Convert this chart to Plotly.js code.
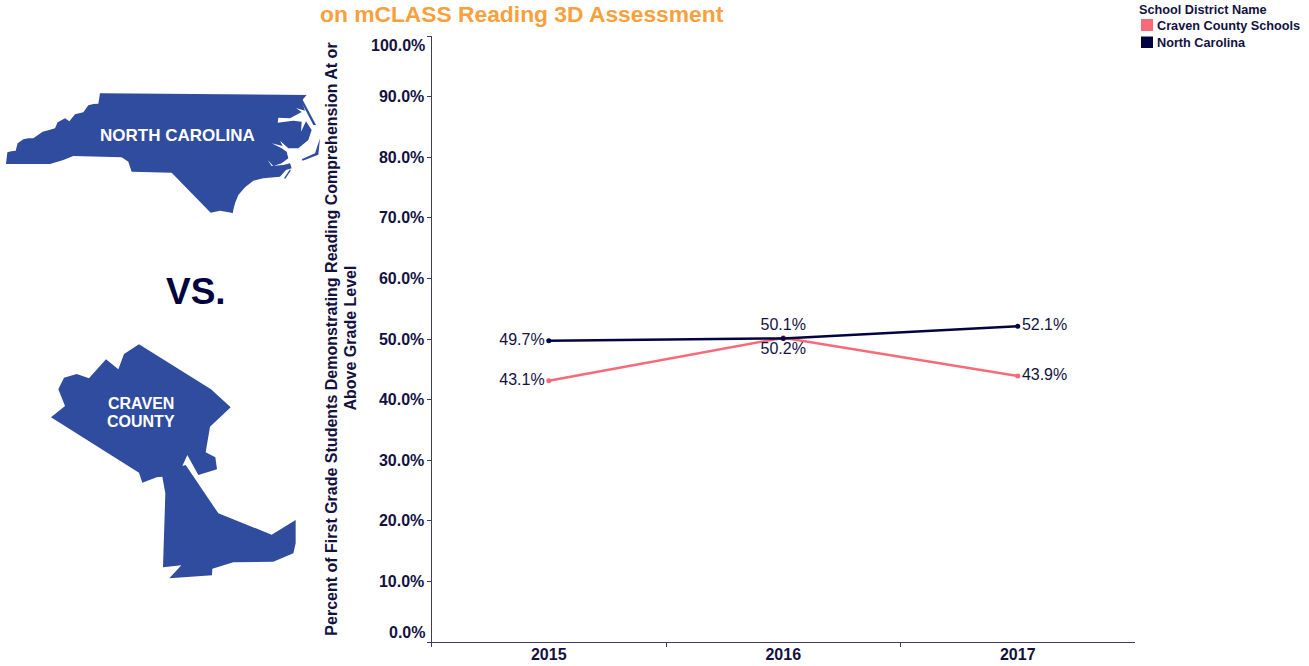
<!DOCTYPE html>
<html><head><meta charset="utf-8">
<script src="https://cdn.plot.ly/plotly-3.0.1.min.js"></script>
<style>html,body{margin:0;padding:0;background:#fff}#c{width:1309px;height:666px}</style>
</head><body><div id="c"></div>
<script>
var years = ['2015','2016','2017'];
var cravenValues = [43.1,50.2,43.9];
var ncValues = [49.7,50.1,52.1];
var cravenLabels = ['43.1%','50.2%','43.9%'];
var ncLabels = ['49.7%','50.1%','52.1%'];
var yTicks = [0,10,20,30,40,50,60,70,80,90,100];
var yTickText = ['','10.0%','20.0%','30.0%','40.0%','50.0%','60.0%','70.0%','80.0%','90.0%',''];

var W=1309,H=666;
var ink='#13123f', axisInk='#3d3c68', coral='#f76b78', navy='#03043f', blue='#2f4c9f', orange='#f9a03c';
var font='"Liberation Sans", Arial, sans-serif';

// decorative map silhouettes at 3x crop scale
var ncOutline=[[18,252],[22,217],[34,214],[47,212],[53,190],[70,178],[85,175],[100,175],[128,155],[150,149],[165,145],[173,127],[195,115],[208,124],[225,103],[250,97],[265,76],[280,72],[295,71],[300,40],[920,45],[905,62],[915,92],[888,84],[905,96],[870,115],[835,113],[833,128],[880,122],[905,125],[903,155],[918,124],[935,150],[925,180],[895,205],[865,205],[840,182],[848,198],[815,190],[845,205],[860,215],[865,235],[845,250],[820,258],[803,240],[815,258],[850,255],[870,250],[875,265],[858,270],[840,290],[790,295],[760,302],[735,322],[715,345],[705,370],[695,398],[660,392],[632,398],[515,278],[395,275],[385,245],[365,232],[220,228],[190,240],[150,252]];
var ncIslandA=[[904,52],[948,135],[940,135],[902,62]];
var ncIslandB=[[905,238],[945,220],[960,175],[955,224],[908,242]];
var ncIslandC=[[852,295],[870,268],[872,272],[856,296]];
var ncIslandD=[[693,398],[706,362],[698,400]];
var cravenOutline=[[63,262],[105,228],[85,178],[102,143],[140,132],[177,145],[228,88],[265,118],[282,72],[327,43],[543,178],[602,232],[540,290],[527,367],[556,382],[561,418],[505,435],[472,375],[457,408],[467,405],[565,550],[725,614],[797,570],[797,640],[790,670],[730,695],[610,697],[547,716],[546,736],[418,745],[454,706],[399,712],[406,490],[397,440],[380,442],[337,458],[327,428]];

function silhouette(pts,ox,oy){
  var d=pts.map(function(p,i){return (i?'L':'M')+((ox+p[0]/3)/W).toFixed(5)+','+(1-(oy+p[1]/3)/H).toFixed(5);}).join(' ')+' Z';
  return {type:'path',xref:'paper',yref:'paper',path:d,fillcolor:blue,line:{width:0},layer:'below'};
}
var shapes=[ncOutline,ncIslandA,ncIslandB,ncIslandC,ncIslandD].map(function(s){return silhouette(s,0,80);});
shapes.push(silhouette(cravenOutline,30,330));

function swatch(color,x0,y0,x1,y1){
  return {type:'rect',xref:'paper',yref:'paper',x0:x0/W,x1:x1/W,y0:1-y1/H,y1:1-y0/H,fillcolor:color,line:{width:0},layer:'above'};
}
shapes.push(swatch(coral,1141,19,1153,31));
shapes.push(swatch(navy,1141,36.5,1153,48));

function pageNote(text,x,y,size,color,anchor,angle){
  return {text:'<b>'+text+'</b>',xref:'paper',yref:'paper',x:x/W,y:1-y/H,xanchor:anchor||'center',yanchor:'middle',showarrow:false,textangle:angle||0,
    font:{family:font,size:size,color:color},borderpad:0};
}
var annotations=[
  pageNote('NORTH CAROLINA',177,135,17,'#ffffff'),
  pageNote('CRAVEN',140.5,403,16,'#ffffff'),
  pageNote('COUNTY',140.5,421,16,'#ffffff'),
  pageNote('VS.',195.5,291,37,navy),
  pageNote('on mCLASS Reading 3D Assessment',319,14,22.8,orange,'left'),
  pageNote('100.0%',426.5,45.5,16,ink,'right'),
  pageNote('0.0%',426.5,632,16,ink,'right'),
  pageNote('Above Grade Level',350,338.5,16,ink,'center',-90),
  pageNote('School District Name',1138,10,12.7,ink,'left'),
  pageNote('Craven County Schools',1156,26,12.7,ink,'left'),
  pageNote('North Carolina',1156,43,12.7,ink,'left')
];

var common={x:years,type:'scatter',mode:'lines+markers+text',showlegend:false,hoverinfo:'x+y',cliponaxis:false};
var traces=[
  Object.assign({},common,{name:'Craven County Schools',y:cravenValues,text:cravenLabels,
    textposition:['middle left','bottom center','middle right'],textfont:{family:font,size:16,color:ink},
    line:{color:coral,width:2.5},marker:{color:coral,size:5}}),
  Object.assign({},common,{name:'North Carolina',y:ncValues,text:ncLabels,
    textposition:['middle left','top center','middle right'],textfont:{family:font,size:16,color:ink},
    line:{color:navy,width:2.5},marker:{color:navy,size:5}})
];

var layout={
  width:W,height:H,margin:{l:0,r:0,t:0,b:0},paper_bgcolor:'#fff',plot_bgcolor:'#fff',showlegend:false,
  font:{family:font,color:ink},
  xaxis:{type:'category',domain:[431.5/W,1135/W],range:[-0.5,2.5],tickson:'boundaries',ticks:'outside',ticklen:4,tickcolor:axisInk,
    ticklabelstandoff:-2,
    showgrid:false,zeroline:false,showline:true,linecolor:axisInk,linewidth:1,tickfont:{family:font,size:16,color:ink},tickprefix:'<b>',ticksuffix:'</b>'},
  yaxis:{domain:[1-642/H,1-36/H],range:[0,100],tickmode:'array',tickvals:yTicks,ticktext:yTickText.map(function(t){return t?'<b>'+t+'</b>':'';}),
    ticks:'outside',ticklen:4,tickcolor:axisInk,showgrid:false,zeroline:false,showline:true,linecolor:axisInk,linewidth:1,ticklabelstandoff:-1,
    tickfont:{family:font,size:16,color:ink},
    title:{text:'<b>Percent of First Grade Students Demonstrating Reading Comprehension At or</b>',standoff:37,font:{family:font,size:16,color:ink}}},
  shapes:shapes,annotations:annotations
};
Plotly.newPlot('c',traces,layout,{displayModeBar:false,responsive:false});
</script></body></html>
